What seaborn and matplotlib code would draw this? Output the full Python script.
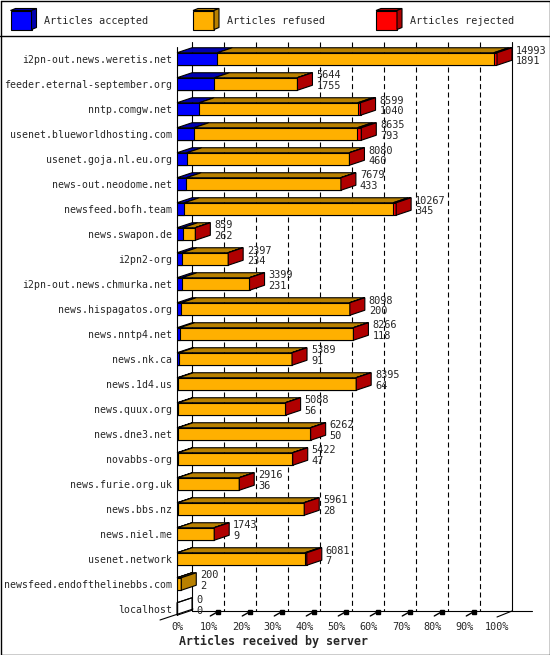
import numpy as np
import pandas as pd
from matplotlib import pyplot as plt
from matplotlib.patches import Polygon
import seaborn as sns

hosts = ["i2pn-out.news.weretis.net", "feeder.eternal-september.org", "nntp.comgw.net",
         "usenet.blueworldhosting.com", "usenet.goja.nl.eu.org", "news-out.neodome.net",
         "newsfeed.bofh.team", "news.swapon.de", "i2pn2-org", "i2pn-out.news.chmurka.net",
         "news.hispagatos.org", "news.nntp4.net", "news.nk.ca", "news.1d4.us",
         "news.quux.org", "news.dne3.net", "novabbs-org", "news.furie.org.uk",
         "news.bbs.nz", "news.niel.me", "usenet.network", "newsfeed.endofthelinebbs.com",
         "localhost"]
offered = [14993, 5644, 8599, 8635, 8080, 7679, 10267, 859, 2397, 3399, 8098, 8266,
           5389, 8395, 5088, 6262, 5422, 2916, 5961, 1743, 6081, 200, 0]
accepted = [1891, 1755, 1040, 793, 460, 433, 345, 262, 234, 231, 200, 118,
            91, 64, 56, 50, 47, 36, 28, 9, 7, 2, 0]
rejected = [150, 15, 130, 180, 15, 15, 140, 15, 15, 15, 15, 15,
            15, 15, 15, 15, 15, 15, 20, 15, 90, 0, 0]
pct_ticks = list(range(0, 101, 10))
legend_names = ["Articles accepted", "Articles refused", "Articles rejected"]

# colours: front face, top/side face
front = ["#0000ff", "#ffb000", "#ff0000"]
shade = ["#0000b0", "#b88000", "#b00000"]

W, H_PX = 550, 655
PX = 3.2            # pixels per percent
DX = 15 / PX        # depth in x (data units)
DY = 0.2            # depth in y (rows)
BH = 0.5            # bar height (rows)

df = pd.DataFrame({"host": hosts, "offered": offered, "accepted": accepted,
                   "rejected": rejected})
df["refused"] = df.offered - df.accepted - df.rejected
vmax = df.offered.max()
df["p_acc"] = df.accepted / vmax * 100
df["p_ref"] = (df.accepted + df.refused) / vmax * 100
df["p_tot"] = df.offered / vmax * 100

sns.set_style("white")
plt.rcParams["font.family"] = ["DejaVu Sans Mono"]
FS = 7.1

fig = plt.figure(figsize=(W / 100, H_PX / 100), dpi=100)
ax = fig.add_axes([177 / W, (H_PX - 618) / H_PX, 320 / W, 578 / H_PX])

# front faces, stacked by overdrawing
for col, c in zip(["p_tot", "p_ref", "p_acc"], [front[2], front[1], front[0]]):
    sns.barplot(data=df, x=col, y="host", orient="h", color=c, width=BH,
                edgecolor="black", linewidth=0.8, errorbar=None, ax=ax,
                saturation=1, zorder=3)

ax.set_xlim(0, 100)
ax.set_ylim(22.36, -0.76)
for s in ax.spines.values():
    s.set_visible(False)
ax.set_xlabel("")
ax.set_ylabel("")
ax.set_xticks(pct_ticks)
ax.set_xticklabels([f"{v}%" for v in pct_ticks], fontsize=FS + 0.2)
ax.tick_params(axis="both", length=0)
ax.tick_params(axis="y", pad=3.6, labelsize=FS)
ax.tick_params(axis="x", pad=3.0)


def poly(pts, fc, z=4):
    ax.add_patch(Polygon(pts, closed=True, facecolor=fc, edgecolor="black",
                         linewidth=0.8, clip_on=False, zorder=z))


def line(xs, ys, **kw):
    kw.setdefault("color", "black")
    kw.setdefault("linewidth", 0.8)
    ax.plot(xs, ys, clip_on=False, **kw)


# 3D top and side faces
for r, row in df.iterrows():
    top = r - BH / 2
    bot = r + BH / 2
    edges = [0, row.p_acc, row.p_ref, row.p_tot]
    empty = row.offered == 0
    last = 0
    for i in range(3):
        x0, x1 = edges[i], edges[i + 1]
        if x1 > x0 or (i == 0 and empty):
            poly([(x0, top), (x1, top), (x1 + DX, top - DY), (x0 + DX, top - DY)],
                 "none" if empty else shade[i])
        if x1 > x0:
            last = i
    xe = row.p_tot
    poly([(xe, top), (xe + DX, top - DY), (xe + DX, bot - DY), (xe, bot)],
         "none" if empty else shade[last])
    tx = xe + DX + 4 / PX
    ax.text(tx, r - 0.34, str(row.offered), va="center", ha="left", fontsize=FS + 0.3,
            clip_on=False, zorder=5)
    ax.text(tx, r + 0.08, str(row.accepted), va="center", ha="left", fontsize=FS + 0.3,
            clip_on=False, zorder=5)

# back wall and floor
y_top, y_floor = -0.68, 22.08
for v in pct_ticks[1:-1]:
    line([v + DX, v + DX], [y_top, y_floor], linestyle=(0, (4.5, 3)), zorder=1)
line([DX, DX], [y_top, y_floor], zorder=1)
line([100 + DX, 100 + DX], [y_top, y_floor], zorder=1)
line([0, 0], [-0.48, 22.2], zorder=2)
line([DX, (532 - 177) / PX], [y_floor, y_floor], zorder=1)
line([(160 - 177) / PX, (193 - 177) / PX], [22.44, 22.0], zorder=1)
line([100, 100 + DX], [22.32, y_floor], zorder=1)
for v in pct_ticks[1:-1]:
    line([v + 0.4, v + 2.6], [22.28, 22.12], linewidth=1.0, zorder=1)
    ax.plot([v + 2.7], [22.12], marker="s", markersize=2.2, color="black",
            clip_on=False, zorder=1)

# page frame, legend and axis title in pixel space
ov = fig.add_axes([0, 0, 1, 1], zorder=-1)
ov.set_xlim(0, W)
ov.set_ylim(H_PX, 0)
ov.axis("off")
ov.plot([0.5, W - 0.5, W - 0.5, 0.5, 0.5], [0.5, 0.5, H_PX - 0.5, H_PX - 0.5, 0.5],
        color="black", linewidth=1.0)
ov.plot([0, W], [35.5, 35.5], color="black", linewidth=1.0)
for i, (name, lx) in enumerate(zip(legend_names, [10.5, 193, 376])):
    x0, x1, y0, y1 = lx, lx + 21, 10.5, 29.5
    ov.add_patch(Polygon([(x0, y0), (x1, y0), (x1, y1), (x0, y1)], facecolor=front[i],
                         edgecolor="black", linewidth=0.8))
    ov.add_patch(Polygon([(x0, y0), (x1, y0), (x1 + 5, y0 - 2), (x0 + 5, y0 - 2)],
                         facecolor=shade[i], edgecolor="black", linewidth=0.8))
    ov.add_patch(Polygon([(x1, y0), (x1 + 5, y0 - 2), (x1 + 5, y1 - 2), (x1, y1)],
                         facecolor=shade[i], edgecolor="black", linewidth=0.8))
    ov.text(x1 + 13, 20.5, name, va="center", ha="left", fontsize=FS + 0.2)
ov.text(179, 641.5, "Articles received by server", va="center", ha="left",
        fontsize=8.4, fontweight="bold")

fig.savefig("out.png", dpi=100)
